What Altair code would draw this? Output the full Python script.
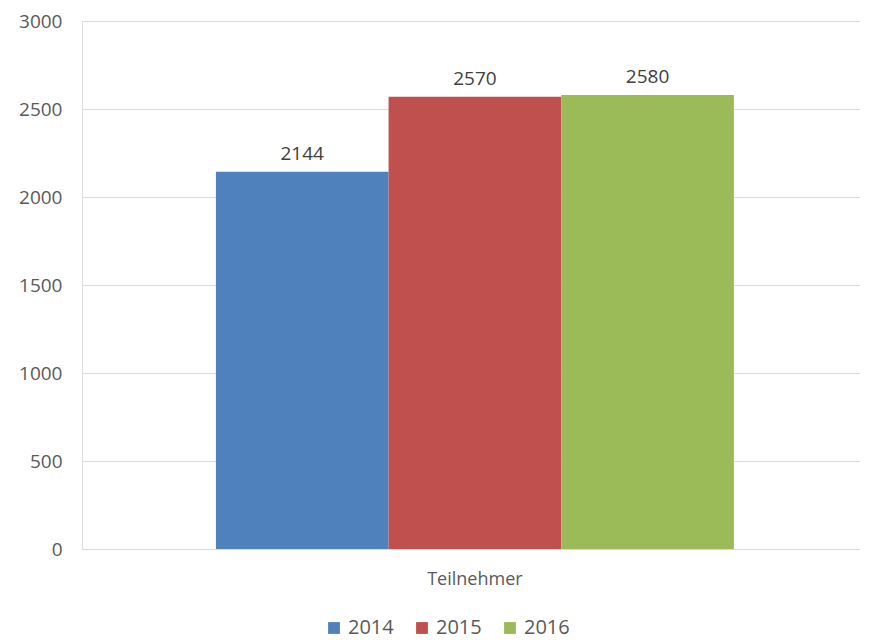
import altair as alt
import pandas as pd

categories = ["Teilnehmer"]
years = ["2014", "2015", "2016"]
values = [2144, 2570, 2580]
colors = ["#4F81BD", "#C0504D", "#9BBB59"]

df = pd.DataFrame({"cat": categories * 3, "year": years, "value": values})

FONT = "Open Sans"
x = alt.X("cat:N", title=None,
          scale=alt.Scale(paddingInner=0, paddingOuter=0.251, align=0.515),
          axis=alt.Axis(labelAngle=0, ticks=False, domain=False, grid=False, labelFontSize=18,
                        labelColor="#595959", labelFont=FONT, labelPadding=21))
xo = alt.XOffset("year:N", scale=alt.Scale(paddingInner=0, paddingOuter=0))
y = alt.Y("value:Q", title=None,
          scale=alt.Scale(domain=[0, 3000]),
          axis=alt.Axis(values=[0, 500, 1000, 1500, 2000, 2500, 3000], format="d",
                        domain=False, ticks=False,
                        labelFontSize=19, labelColor="#595959", labelFont=FONT, labelPadding=20,
                        gridColor="#D9D9D9", gridWidth=1.2))

base = alt.Chart(df).encode(x=x, xOffset=xo, y=y)

bars = base.mark_bar(strokeWidth=0).encode(
    color=alt.Color("year:N", scale=alt.Scale(domain=years, range=colors),
                    legend=alt.Legend(title=None, orient="none", direction="horizontal",
                                      legendX=242, legendY=597, symbolType="square",
                                      symbolSize=140, symbolStrokeWidth=0, labelFontSize=20,
                                      labelColor="#595959", labelFont=FONT, columnPadding=18,
                                      symbolOpacity=1))
)
text = base.mark_text(dy=-18, fontSize=19, color="#404040", font=FONT).encode(text="value:Q")

chart = (bars + text).properties(
    width=778, height=528,
    autosize=alt.AutoSizeParams(type="none"),
    padding={"left": 74, "top": 13, "right": 0, "bottom": 90},
).configure_view(stroke=None).configure(background="white")

chart.save("out.html", embed_options={"renderer": "svg", "actions": False})
